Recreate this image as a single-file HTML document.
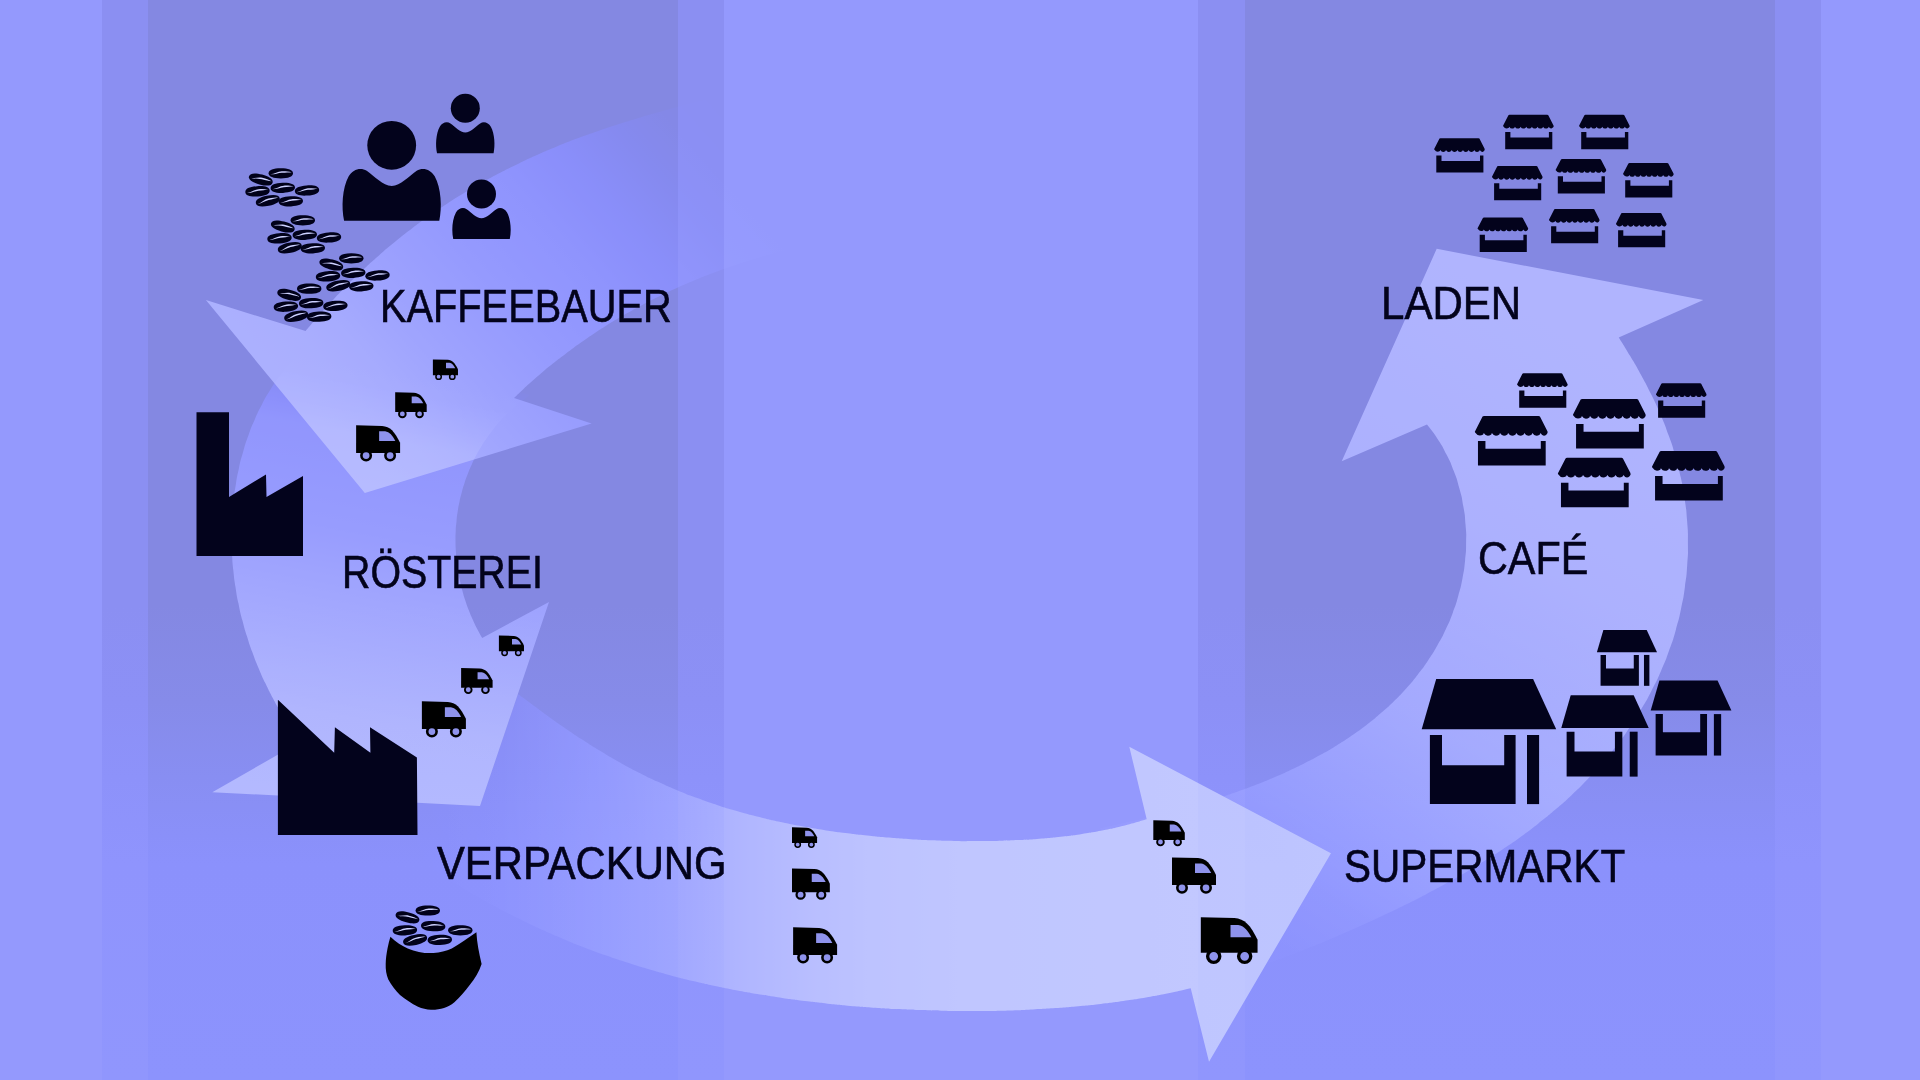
<!DOCTYPE html>
<html lang="de">
<head>
<meta charset="utf-8">
<title>Kaffee Lieferkette</title>
<style>
html,body{margin:0;padding:0;width:1920px;height:1080px;overflow:hidden;background:#9499fd;}
#stage{position:relative;width:1920px;height:1080px;overflow:hidden;background:#9499fd;font-family:"Liberation Sans",sans-serif;}
svg{position:absolute;left:0;top:0;}
.lbl{position:absolute;margin:0;color:#03031c;font-size:45.6px;line-height:1;white-space:nowrap;transform-origin:0 0;font-weight:400;-webkit-text-stroke:0.6px #03031c;}
.ar{mix-blend-mode:screen;}
@supports not (mix-blend-mode:screen){.ar{mix-blend-mode:normal;}.a1{fill:url(#g1n);}.a2{fill:url(#g2n);}.a3{fill:url(#g3n);}.a4{fill:url(#g4n);}}
</style>
</head>
<body>
<div id="stage">

<svg width="1920" height="1080" viewBox="0 0 1920 1080">
<defs>
<linearGradient id="bd" gradientUnits="userSpaceOnUse" x1="0" y1="0" x2="0" y2="1080">
<stop offset="0" stop-color="#8488e2"/><stop offset="0.56" stop-color="#8488e2"/><stop offset="0.65" stop-color="#868be9"/><stop offset="0.72" stop-color="#888ef2"/><stop offset="0.80" stop-color="#8b91fc"/><stop offset="1" stop-color="#8c93fd"/>
</linearGradient>
<linearGradient id="bm" gradientUnits="userSpaceOnUse" x1="0" y1="0" x2="0" y2="1080">
<stop offset="0" stop-color="#8b8ff2"/><stop offset="0.56" stop-color="#8b8ff2"/><stop offset="0.65" stop-color="#8c90f6"/><stop offset="0.72" stop-color="#8d92fa"/><stop offset="0.80" stop-color="#8f94fd"/><stop offset="1" stop-color="#9096fd"/>
</linearGradient>
<linearGradient id="g1" gradientUnits="userSpaceOnUse" x1="720" y1="100" x2="340" y2="440">
<stop offset="0.000" stop-color="#000000"/>
<stop offset="0.100" stop-color="#01012d"/>
<stop offset="0.185" stop-color="#030473"/>
<stop offset="0.300" stop-color="#0c0dd4"/>
<stop offset="0.410" stop-color="#1619f1"/>
<stop offset="0.580" stop-color="#2427f5"/>
<stop offset="0.726" stop-color="#3438f6"/>
<stop offset="0.850" stop-color="#464af7"/>
<stop offset="0.920" stop-color="#4d51f7"/>
<stop offset="1.000" stop-color="#5155f7"/>
</linearGradient>
<linearGradient id="g1n" gradientUnits="userSpaceOnUse" x1="720" y1="100" x2="340" y2="440">
<stop offset="0.000" stop-color="#8a8fff" stop-opacity="0.000"/>
<stop offset="0.100" stop-color="#8b90ff" stop-opacity="0.176"/>
<stop offset="0.185" stop-color="#8b91ff" stop-opacity="0.451"/>
<stop offset="0.300" stop-color="#8f94ff" stop-opacity="0.831"/>
<stop offset="0.410" stop-color="#9399ff" stop-opacity="0.945"/>
<stop offset="0.580" stop-color="#999fff" stop-opacity="0.961"/>
<stop offset="0.726" stop-color="#a1a7ff" stop-opacity="0.965"/>
<stop offset="0.850" stop-color="#aaafff" stop-opacity="0.969"/>
<stop offset="0.920" stop-color="#adb2ff" stop-opacity="0.969"/>
<stop offset="1.000" stop-color="#afb4ff" stop-opacity="0.969"/>
</linearGradient>
<linearGradient id="g2" gradientUnits="userSpaceOnUse" x1="420" y1="370" x2="340" y2="800">
<stop offset="0.000" stop-color="#000000"/>
<stop offset="0.060" stop-color="#030378"/>
<stop offset="0.120" stop-color="#0f10dc"/>
<stop offset="0.170" stop-color="#1b1df0"/>
<stop offset="0.390" stop-color="#282bf5"/>
<stop offset="0.530" stop-color="#3b3ff6"/>
<stop offset="0.700" stop-color="#4d51f7"/>
<stop offset="0.810" stop-color="#585cf7"/>
<stop offset="1.000" stop-color="#5c60f7"/>
</linearGradient>
<linearGradient id="g2n" gradientUnits="userSpaceOnUse" x1="420" y1="370" x2="340" y2="800">
<stop offset="0.000" stop-color="#8a8fff" stop-opacity="0.000"/>
<stop offset="0.060" stop-color="#8b90ff" stop-opacity="0.471"/>
<stop offset="0.120" stop-color="#9095ff" stop-opacity="0.863"/>
<stop offset="0.170" stop-color="#959bff" stop-opacity="0.941"/>
<stop offset="0.390" stop-color="#9ba1ff" stop-opacity="0.961"/>
<stop offset="0.530" stop-color="#a5aaff" stop-opacity="0.965"/>
<stop offset="0.700" stop-color="#adb2ff" stop-opacity="0.969"/>
<stop offset="0.810" stop-color="#b2b7ff" stop-opacity="0.969"/>
<stop offset="1.000" stop-color="#b4b9ff" stop-opacity="0.969"/>
</linearGradient>
<linearGradient id="g3" gradientUnits="userSpaceOnUse" x1="400" y1="0" x2="1330" y2="0">
<stop offset="0.000" stop-color="#000000"/>
<stop offset="0.050" stop-color="#01013c"/>
<stop offset="0.107" stop-color="#04048c"/>
<stop offset="0.215" stop-color="#171aec"/>
<stop offset="0.300" stop-color="#2a2ef5"/>
<stop offset="0.366" stop-color="#4247f6"/>
<stop offset="0.440" stop-color="#565cf7"/>
<stop offset="0.502" stop-color="#6168f7"/>
<stop offset="0.600" stop-color="#6870f8"/>
<stop offset="0.753" stop-color="#6b73f8"/>
<stop offset="0.914" stop-color="#6e76f8"/>
<stop offset="1.000" stop-color="#7078f8"/>
</linearGradient>
<linearGradient id="g3n" gradientUnits="userSpaceOnUse" x1="400" y1="0" x2="1330" y2="0">
<stop offset="0.000" stop-color="#8a8fff" stop-opacity="0.000"/>
<stop offset="0.050" stop-color="#8a8fff" stop-opacity="0.235"/>
<stop offset="0.107" stop-color="#8b90ff" stop-opacity="0.549"/>
<stop offset="0.215" stop-color="#949aff" stop-opacity="0.925"/>
<stop offset="0.300" stop-color="#9ca2ff" stop-opacity="0.961"/>
<stop offset="0.366" stop-color="#a8aeff" stop-opacity="0.965"/>
<stop offset="0.440" stop-color="#b1b7ff" stop-opacity="0.969"/>
<stop offset="0.502" stop-color="#b7bdff" stop-opacity="0.969"/>
<stop offset="0.600" stop-color="#bac0ff" stop-opacity="0.973"/>
<stop offset="0.753" stop-color="#bbc2ff" stop-opacity="0.973"/>
<stop offset="0.914" stop-color="#bdc3ff" stop-opacity="0.973"/>
<stop offset="1.000" stop-color="#bec4ff" stop-opacity="0.973"/>
</linearGradient>
<linearGradient id="g4" gradientUnits="userSpaceOnUse" x1="1180" y1="950" x2="1560" y2="330">
<stop offset="0.000" stop-color="#000000"/>
<stop offset="0.080" stop-color="#03036e"/>
<stop offset="0.160" stop-color="#0c0dcd"/>
<stop offset="0.240" stop-color="#1a1df0"/>
<stop offset="0.450" stop-color="#3f43f6"/>
<stop offset="0.710" stop-color="#5357f7"/>
<stop offset="0.910" stop-color="#595df7"/>
<stop offset="1.000" stop-color="#5b5ff7"/>
</linearGradient>
<linearGradient id="g4n" gradientUnits="userSpaceOnUse" x1="1180" y1="950" x2="1560" y2="330">
<stop offset="0.000" stop-color="#8a8fff" stop-opacity="0.000"/>
<stop offset="0.080" stop-color="#8b90ff" stop-opacity="0.431"/>
<stop offset="0.160" stop-color="#8f94ff" stop-opacity="0.804"/>
<stop offset="0.240" stop-color="#959bff" stop-opacity="0.941"/>
<stop offset="0.450" stop-color="#a6acff" stop-opacity="0.965"/>
<stop offset="0.710" stop-color="#b0b5ff" stop-opacity="0.969"/>
<stop offset="0.910" stop-color="#b3b8ff" stop-opacity="0.969"/>
<stop offset="1.000" stop-color="#b4b9ff" stop-opacity="0.969"/>
</linearGradient>

<clipPath id="c3"><path clip-rule="evenodd" d="M0,0 H1920 V1080 H0 Z M330.0,330.0 C325.2,333.2 324.8,332.7 315.8,339.5 C306.7,346.3 311.0,342.7 302.7,350.3 C294.4,357.9 298.4,354.0 290.9,362.3 C283.4,370.6 287.0,366.3 280.2,375.3 C273.5,384.3 276.7,379.7 270.7,389.2 C264.7,398.7 267.5,393.9 262.2,403.9 C257.0,413.8 259.4,408.8 254.9,419.2 C250.3,429.6 252.4,424.3 248.6,435.0 C244.7,445.7 246.5,440.3 243.3,451.3 C240.1,462.3 241.5,456.7 239.0,467.9 C236.5,479.1 237.6,473.5 235.8,484.8 C233.9,496.1 234.7,490.4 233.4,501.8 C232.2,513.2 232.7,507.5 232.1,518.9 C231.4,530.3 231.6,524.6 231.6,536.0 C231.6,547.4 231.4,541.7 232.0,553.1 C232.6,564.4 232.2,558.8 233.3,570.1 C234.5,581.3 233.8,575.7 235.5,586.9 C237.2,598.0 236.2,592.5 238.5,603.5 C240.7,614.6 239.5,609.1 242.3,620.0 C245.1,630.8 243.6,625.4 246.9,636.1 C250.2,646.8 248.4,641.5 252.3,652.1 C256.1,662.6 254.1,657.4 258.4,667.7 C262.8,678.1 260.5,672.9 265.3,683.1 C270.2,693.3 267.6,688.2 272.9,698.2 C278.3,708.2 275.5,703.2 281.3,713.0 C287.1,722.8 284.0,718.0 290.3,727.6 C296.5,737.3 296.8,737.2 300.0,742.0 L212.3,792.2 L480.0,806.0 L549.0,602.0 L482.2,638.0 C480.5,635.0 480.4,635.0 477.2,628.9 C474.0,622.8 475.5,625.8 472.7,619.6 C469.9,613.3 471.2,616.5 468.7,610.1 C466.3,603.8 467.4,607.0 465.3,600.5 C463.2,594.1 464.1,597.3 462.4,590.8 C460.6,584.3 461.4,587.5 460.0,581.0 C458.5,574.4 459.2,577.7 458.1,571.1 C457.0,564.5 457.4,567.8 456.7,561.1 C456.0,554.5 456.2,557.8 455.9,551.2 C455.5,544.5 455.6,547.8 455.5,541.2 C455.5,534.6 455.4,537.9 455.7,531.3 C456.0,524.7 455.8,528.0 456.5,521.4 C457.1,514.8 456.7,518.1 457.7,511.6 C458.7,505.1 458.1,508.3 459.5,501.8 C460.8,495.4 460.1,498.6 461.8,492.2 C463.5,485.9 462.5,489.0 464.6,482.8 C466.6,476.5 465.5,479.6 467.9,473.5 C470.3,467.4 469.0,470.4 471.8,464.4 C474.5,458.4 473.0,461.3 476.1,455.5 C479.2,449.7 477.6,452.5 481.0,446.9 C484.5,441.2 482.7,444.0 486.5,438.5 C490.3,433.0 488.3,435.7 492.4,430.4 C496.6,425.1 494.4,427.7 498.9,422.6 C503.4,417.5 501.0,420.0 505.9,415.1 C510.7,410.3 508.2,412.6 513.4,408.0 C518.6,403.4 515.9,405.7 521.5,401.3 C527.0,397.0 527.2,397.1 530.0,395.0 Z"/></clipPath>
<clipPath id="c4"><path clip-rule="evenodd" d="M0,0 H1920 V1080 H0 Z M440.0,640.0 C446.1,643.8 446.3,643.5 458.4,651.3 C470.5,659.1 464.5,655.2 476.4,663.4 C488.2,671.7 482.3,667.6 494.0,676.1 C505.7,684.7 499.8,680.4 511.4,689.1 C523.1,697.8 517.2,693.5 528.9,702.1 C540.5,710.7 534.7,706.5 546.4,715.0 C558.2,723.5 552.2,719.3 564.1,727.5 C576.0,735.7 570.0,731.7 582.1,739.6 C594.2,747.5 588.1,743.7 600.4,751.1 C612.7,758.6 606.5,755.0 619.0,762.0 C631.5,769.0 625.2,765.7 638.0,772.2 C650.8,778.7 644.3,775.6 657.4,781.6 C670.4,787.6 663.8,784.7 677.1,790.2 C690.4,795.7 683.7,793.1 697.2,798.1 C710.7,803.1 703.9,800.7 717.6,805.2 C731.4,809.7 724.5,807.5 738.4,811.5 C752.3,815.5 745.3,813.6 759.4,817.1 C773.5,820.6 766.4,819.0 780.6,822.0 C794.9,825.1 787.7,823.7 802.1,826.3 C816.4,828.9 809.2,827.7 823.7,829.9 C838.1,832.2 830.9,831.1 845.3,833.0 C859.8,834.9 852.6,834.0 867.1,835.5 C881.6,837.1 874.3,836.4 888.8,837.6 C903.3,838.8 896.1,838.3 910.6,839.2 C925.1,840.0 917.8,839.7 932.3,840.3 C946.7,840.9 939.5,840.6 953.9,840.9 C968.3,841.2 961.1,841.2 975.4,841.1 C989.7,841.1 982.6,841.2 996.8,840.9 C1011.1,840.5 1004.0,840.8 1018.2,840.1 C1032.4,839.4 1025.3,839.9 1039.5,838.7 C1053.6,837.6 1046.5,838.3 1060.7,836.7 C1074.9,835.1 1067.8,836.1 1082.0,833.9 C1096.2,831.7 1089.0,833.0 1103.3,830.2 C1117.6,827.3 1110.4,829.0 1124.9,825.4 C1139.3,821.8 1139.4,821.3 1146.7,819.3 L1129.3,746.7 L1331.0,853.3 L1209.0,1061.7 L1190.7,988.3 C1183.2,990.0 1183.3,990.2 1168.3,993.3 C1153.4,996.3 1160.8,994.9 1145.9,997.5 C1130.9,1000.0 1138.4,998.8 1123.3,1001.0 C1108.3,1003.1 1115.8,1002.1 1100.8,1003.9 C1085.7,1005.6 1093.2,1004.8 1078.1,1006.2 C1063.0,1007.6 1070.6,1007.0 1055.5,1008.1 C1040.3,1009.1 1047.9,1008.7 1032.7,1009.4 C1017.6,1010.2 1025.2,1009.9 1010.0,1010.4 C994.8,1010.8 1002.4,1010.7 987.2,1010.9 C972.0,1011.1 979.6,1011.1 964.4,1011.0 C949.2,1011.0 956.8,1011.0 941.6,1010.7 C926.4,1010.4 934.0,1010.7 918.8,1010.1 C903.6,1009.6 911.2,1009.9 896.0,1009.1 C880.8,1008.3 888.4,1008.8 873.2,1007.7 C858.0,1006.6 865.6,1007.2 850.4,1005.9 C835.2,1004.6 842.8,1005.3 827.7,1003.7 C812.5,1002.1 820.1,1003.0 805.0,1001.1 C789.9,999.2 797.4,1000.2 782.4,998.0 C767.4,995.8 774.9,997.0 759.9,994.5 C744.9,992.0 752.4,993.3 737.4,990.5 C722.5,987.7 730.0,989.2 715.1,986.0 C700.3,982.8 707.7,984.5 692.9,981.0 C678.2,977.5 685.5,979.3 670.9,975.4 C656.2,971.5 663.5,973.6 648.9,969.3 C634.4,965.0 641.6,967.3 627.2,962.6 C612.8,957.9 619.9,960.4 605.6,955.3 C591.3,950.2 598.5,952.9 584.3,947.4 C570.1,941.9 577.2,944.8 563.2,938.9 C549.1,933.0 556.1,936.1 542.2,929.8 C528.4,923.5 535.3,926.7 521.6,920.0 C507.9,913.3 514.7,916.8 501.2,909.7 C487.7,902.6 494.4,906.2 481.1,898.7 C467.8,891.2 474.4,895.1 461.3,887.2 C448.2,879.3 454.7,883.3 441.9,875.1 C429.0,866.9 435.4,871.1 422.7,862.5 C410.1,854.0 416.4,858.3 404.0,849.5 C391.6,840.6 397.7,845.1 385.6,836.0 C373.5,826.9 379.4,831.5 367.6,822.1 C355.7,812.8 355.9,812.7 350.0,808.0 Z"/></clipPath>

<g id="truck">
<path fill="#000" d="M0,0 L26,0.6 C34,1.2 38.5,6 44,17.5 L44,27.6 L0,27.6 Z"/>
<path fill="#8f93ec" d="M23,6 L29,6 C33.5,6.6 36.5,10.5 39.2,15.6 L23,15.6 Z"/>
<circle cx="10" cy="30.3" r="4.7" fill="#8f93ec" stroke="#000" stroke-width="2.6"/>
<circle cx="34" cy="30.3" r="4.7" fill="#8f93ec" stroke="#000" stroke-width="2.6"/>
</g>

<g id="shop" fill="#03031c">
<path d="M5.4,0.4 Q5.8,0 6.4,0 L44.3,0 Q44.9,0 45.3,0.4 L50.5,10.6 Q51,11.8 49.9,12.8 Q47.60,15.00 45.67,11.90 L45.27,12.90 Q41.97,15.00 40.03,11.90 L39.63,12.90 Q36.34,15.00 34.40,11.90 L34.00,12.90 Q30.70,15.00 28.77,11.90 L28.37,12.90 Q25.07,15.00 23.13,11.90 L22.73,12.90 Q19.44,15.00 17.50,11.90 L17.10,12.90 Q13.80,15.00 11.87,11.90 L11.47,12.90 Q8.17,15.00 6.23,11.90 L5.83,12.90 Q2.53,14.80 0.40,11.60 Q-0.2,11.0 0.2,10.6 Z"/>
<path d="M2.2,17.3 L7.4,17.3 L7.4,22.8 L45.9,22.8 L45.9,17.3 L49.3,17.3 L49.3,34.4 L2.2,34.4 Z"/>
</g>

<g id="market" fill="#03031c">
<path d="M14.5,0 L111.4,0 L134.5,50.2 L0,50.2 Z"/>
<path d="M8.2,56 L20.3,56 L20.3,86.3 L82.5,86.3 L82.5,56 L93.9,56 L93.9,125.1 L8.2,125.1 Z"/>
<rect x="105.3" y="56" width="12.1" height="69.1"/>
</g>

<g id="bean">
<path d="M-12.2,0 C-12.2,-3.5 -7.4,-5.1 0,-5.1 C7.4,-5.1 12.2,-3.5 12.2,0 C12.2,3.5 7.4,5.1 0,5.1 C-7.4,5.1 -12.2,3.5 -12.2,0 Z" fill="#01011a"/>
<path d="M-10.6,1.0 C-6,0.5 -3.2,-1.9 1,-2.1 C5,-2.2 8,-1.7 10.9,-1.1 C8,-0.8 5,-0.7 1,-0.6 C-3,-0.3 -6,1.2 -10.6,1.0 Z" fill="#ccd0ff"/>
</g>

<g id="person" fill="#03031c">
<circle cx="0" cy="0" r="24.4"/>
<path d="M-47.6,75.5 C-50.5,62 -49.5,43 -43,31 C-39,24 -31,21.5 -25,25.5 C-17,31 -9,40.5 0,40.8 C9,40.5 17,31 25,25.5 C31,21.5 39,24 43,31 C49.5,43 50.5,62 47.6,75.5 Z"/>
</g>
</defs>

<rect x="0" y="0" width="1920" height="1080" fill="#9499fd"/>
<rect x="102" y="0" width="46" height="1080" fill="url(#bm)"/>
<rect x="148" y="0" width="530" height="1080" fill="url(#bd)"/>
<rect x="678" y="0" width="46" height="1080" fill="url(#bm)"/>
<rect x="1198" y="0" width="47" height="1080" fill="url(#bm)"/>
<rect x="1245" y="0" width="530" height="1080" fill="url(#bd)"/>
<rect x="1775" y="0" width="46" height="1080" fill="url(#bm)"/>
<g>
<path class="ar a2" d="M330.0,330.0 C325.2,333.2 324.8,332.7 315.8,339.5 C306.7,346.3 311.0,342.7 302.7,350.3 C294.4,357.9 298.4,354.0 290.9,362.3 C283.4,370.6 287.0,366.3 280.2,375.3 C273.5,384.3 276.7,379.7 270.7,389.2 C264.7,398.7 267.5,393.9 262.2,403.9 C257.0,413.8 259.4,408.8 254.9,419.2 C250.3,429.6 252.4,424.3 248.6,435.0 C244.7,445.7 246.5,440.3 243.3,451.3 C240.1,462.3 241.5,456.7 239.0,467.9 C236.5,479.1 237.6,473.5 235.8,484.8 C233.9,496.1 234.7,490.4 233.4,501.8 C232.2,513.2 232.7,507.5 232.1,518.9 C231.4,530.3 231.6,524.6 231.6,536.0 C231.6,547.4 231.4,541.7 232.0,553.1 C232.6,564.4 232.2,558.8 233.3,570.1 C234.5,581.3 233.8,575.7 235.5,586.9 C237.2,598.0 236.2,592.5 238.5,603.5 C240.7,614.6 239.5,609.1 242.3,620.0 C245.1,630.8 243.6,625.4 246.9,636.1 C250.2,646.8 248.4,641.5 252.3,652.1 C256.1,662.6 254.1,657.4 258.4,667.7 C262.8,678.1 260.5,672.9 265.3,683.1 C270.2,693.3 267.6,688.2 272.9,698.2 C278.3,708.2 275.5,703.2 281.3,713.0 C287.1,722.8 284.0,718.0 290.3,727.6 C296.5,737.3 296.8,737.2 300.0,742.0 L212.3,792.2 L480.0,806.0 L549.0,602.0 L482.2,638.0 C480.5,635.0 480.4,635.0 477.2,628.9 C474.0,622.8 475.5,625.8 472.7,619.6 C469.9,613.3 471.2,616.5 468.7,610.1 C466.3,603.8 467.4,607.0 465.3,600.5 C463.2,594.1 464.1,597.3 462.4,590.8 C460.6,584.3 461.4,587.5 460.0,581.0 C458.5,574.4 459.2,577.7 458.1,571.1 C457.0,564.5 457.4,567.8 456.7,561.1 C456.0,554.5 456.2,557.8 455.9,551.2 C455.5,544.5 455.6,547.8 455.5,541.2 C455.5,534.6 455.4,537.9 455.7,531.3 C456.0,524.7 455.8,528.0 456.5,521.4 C457.1,514.8 456.7,518.1 457.7,511.6 C458.7,505.1 458.1,508.3 459.5,501.8 C460.8,495.4 460.1,498.6 461.8,492.2 C463.5,485.9 462.5,489.0 464.6,482.8 C466.6,476.5 465.5,479.6 467.9,473.5 C470.3,467.4 469.0,470.4 471.8,464.4 C474.5,458.4 473.0,461.3 476.1,455.5 C479.2,449.7 477.6,452.5 481.0,446.9 C484.5,441.2 482.7,444.0 486.5,438.5 C490.3,433.0 488.3,435.7 492.4,430.4 C496.6,425.1 494.4,427.7 498.9,422.6 C503.4,417.5 501.0,420.0 505.9,415.1 C510.7,410.3 508.2,412.6 513.4,408.0 C518.6,403.4 515.9,405.7 521.5,401.3 C527.0,397.0 527.2,397.1 530.0,395.0 Z" fill="url(#g2)"/>
<path class="ar a1" d="M800.0,76.0 C793.3,77.7 793.3,77.8 779.8,81.2 C766.3,84.6 773.0,82.9 759.4,86.3 C745.8,89.6 752.6,87.9 739.0,91.3 C725.4,94.6 732.2,92.9 718.5,96.3 C704.9,99.8 711.7,98.0 698.1,101.5 C684.4,105.0 691.2,103.2 677.6,106.9 C664.0,110.5 670.8,108.6 657.2,112.5 C643.7,116.3 650.4,114.4 637.0,118.4 C623.5,122.5 630.2,120.4 616.8,124.7 C603.4,129.1 610.1,126.8 596.8,131.5 C583.5,136.1 590.1,133.7 577.0,138.6 C563.9,143.6 570.4,141.0 557.4,146.3 C544.4,151.6 550.9,148.9 538.1,154.6 C525.3,160.2 531.6,157.3 519.0,163.4 C506.4,169.4 512.6,166.3 500.2,172.7 C487.8,179.2 494.0,175.9 481.8,182.7 C469.6,189.6 475.6,186.0 463.7,193.3 C451.7,200.6 457.6,196.8 445.9,204.5 C434.2,212.2 440.0,208.2 428.6,216.3 C417.1,224.4 422.8,220.3 411.6,228.8 C400.5,237.2 406.0,232.9 395.1,241.8 C384.2,250.7 389.6,246.1 379.0,255.4 C368.4,264.6 373.6,259.9 363.4,269.6 C353.1,279.2 358.1,274.3 348.2,284.2 C338.2,294.2 343.1,289.2 333.5,299.4 C323.9,309.7 328.6,304.5 319.3,315.1 C310.0,325.6 310.2,325.8 305.6,331.1 L205.9,300.0 L364.8,493.0 L591.6,423.5 L514.0,398.0 C517.2,395.0 517.1,394.9 523.5,389.0 C529.8,383.1 526.6,386.0 533.1,380.3 C539.6,374.6 536.3,377.4 542.9,371.8 C549.5,366.3 546.2,369.0 552.9,363.6 C559.6,358.2 556.2,360.9 563.1,355.7 C569.9,350.4 566.5,353.0 573.4,347.9 C580.3,342.9 576.8,345.4 583.9,340.5 C590.9,335.6 587.4,338.0 594.5,333.3 C601.6,328.5 598.0,330.8 605.3,326.3 C612.5,321.7 608.9,324.0 616.2,319.6 C623.5,315.2 619.8,317.3 627.3,313.1 C634.7,308.9 630.9,310.9 638.5,306.9 C646.0,302.8 642.2,304.8 649.8,300.9 C657.4,297.0 653.6,298.9 661.3,295.2 C668.9,291.4 665.1,293.2 672.8,289.7 C680.6,286.1 676.7,287.8 684.5,284.4 C692.4,281.0 688.5,282.7 696.4,279.4 C704.3,276.2 700.3,277.8 708.3,274.7 C716.3,271.6 712.3,273.1 720.3,270.2 C728.4,267.3 724.4,268.7 732.5,266.0 C740.6,263.2 736.5,264.5 744.7,261.9 C752.9,259.4 748.8,260.6 757.1,258.2 C765.3,255.8 761.2,256.9 769.5,254.7 C777.8,252.4 773.6,253.5 782.0,251.4 C790.4,249.3 786.2,250.3 794.6,248.4 C803.0,246.4 798.8,247.3 807.3,245.6 C815.7,243.8 815.8,243.9 820.0,243.0 Z" fill="url(#g1)"/>
<path class="ar a4" d="M1180.0,985.0 C1187.3,983.9 1187.4,984.3 1201.9,981.6 C1216.4,978.9 1209.2,980.4 1223.5,976.8 C1237.7,973.2 1230.6,975.1 1244.6,970.9 C1258.7,966.7 1251.7,968.9 1265.6,964.2 C1279.4,959.4 1272.5,961.9 1286.2,956.8 C1300.0,951.6 1293.1,954.3 1306.7,948.8 C1320.3,943.4 1313.6,946.2 1327.1,940.5 C1340.6,934.8 1333.8,937.7 1347.2,931.8 C1360.7,925.9 1354.0,928.9 1367.3,922.8 C1380.6,916.7 1374.0,919.8 1387.2,913.5 C1400.4,907.2 1393.9,910.4 1407.0,903.9 C1420.1,897.4 1413.6,900.7 1426.6,893.9 C1439.5,887.1 1433.1,890.6 1445.9,883.5 C1458.8,876.5 1452.4,880.1 1465.1,872.7 C1477.7,865.3 1471.5,869.1 1483.9,861.3 C1496.4,853.6 1490.2,857.6 1502.4,849.4 C1514.6,841.3 1508.6,845.5 1520.5,836.9 C1532.4,828.3 1526.5,832.8 1538.1,823.7 C1549.6,814.7 1543.9,819.3 1555.1,809.8 C1566.2,800.3 1560.8,805.2 1571.5,795.2 C1582.1,785.1 1576.9,790.3 1587.1,779.7 C1597.3,769.2 1592.4,774.6 1602.0,763.5 C1611.5,752.5 1606.9,758.1 1615.9,746.6 C1624.8,735.0 1620.6,740.9 1628.8,728.8 C1637.1,716.7 1633.2,722.9 1640.7,710.3 C1648.2,697.7 1644.7,704.1 1651.4,691.1 C1658.1,678.1 1655.0,684.7 1660.9,671.3 C1666.7,657.8 1664.1,664.6 1669.0,650.8 C1674.0,637.1 1671.8,644.0 1675.8,629.9 C1679.8,615.8 1678.1,622.9 1681.1,608.6 C1684.1,594.2 1682.9,601.4 1684.9,586.9 C1686.9,572.4 1686.2,579.7 1687.2,565.1 C1688.2,550.4 1688.0,557.7 1687.9,543.1 C1687.9,528.4 1688.2,535.7 1687.1,521.1 C1686.0,506.5 1686.8,513.7 1684.7,499.2 C1682.6,484.7 1683.9,491.9 1680.8,477.6 C1677.7,463.3 1679.5,470.3 1675.4,456.2 C1671.4,442.1 1673.6,449.1 1668.6,435.3 C1663.7,421.5 1666.3,428.3 1660.6,414.8 C1654.8,401.2 1657.8,407.9 1651.4,394.7 C1644.9,381.5 1648.2,388.1 1641.2,375.2 C1634.2,362.3 1637.7,368.7 1630.2,356.1 C1622.8,343.6 1622.6,343.7 1618.7,337.5 L1703.3,300.0 L1436.7,248.8 L1341.7,461.2 L1427.0,424.6 C1430.5,429.4 1431.1,428.9 1437.6,438.9 C1444.1,448.9 1441.1,443.8 1446.5,454.5 C1451.9,465.2 1449.5,459.8 1453.8,471.1 C1458.1,482.4 1456.2,476.7 1459.4,488.4 C1462.6,500.1 1461.3,494.2 1463.3,506.2 C1465.4,518.1 1464.6,512.1 1465.5,524.2 C1466.5,536.3 1466.3,530.3 1466.1,542.4 C1466.0,554.4 1466.3,548.5 1465.1,560.4 C1463.8,572.4 1464.7,566.5 1462.5,578.3 C1460.2,590.1 1461.6,584.3 1458.3,595.8 C1455.1,607.3 1456.9,601.6 1452.8,612.8 C1448.6,624.0 1450.9,618.5 1445.8,629.3 C1440.8,640.1 1443.5,634.8 1437.6,645.1 C1431.7,655.5 1434.9,650.4 1428.2,660.3 C1421.6,670.2 1425.0,665.4 1417.7,674.7 C1410.3,684.1 1414.2,679.6 1406.2,688.4 C1398.2,697.3 1402.3,693.0 1393.7,701.4 C1385.1,709.7 1389.5,705.7 1380.4,713.5 C1371.4,721.4 1376.0,717.6 1366.5,724.9 C1356.9,732.2 1361.8,728.7 1351.8,735.5 C1341.9,742.4 1346.9,739.0 1336.7,745.4 C1326.4,751.8 1331.6,748.7 1321.0,754.6 C1310.5,760.5 1315.8,757.6 1305.0,763.1 C1294.3,768.6 1299.7,765.9 1288.7,771.0 C1277.8,776.0 1283.3,773.6 1272.2,778.2 C1261.1,782.9 1266.7,780.7 1255.5,785.0 C1244.3,789.3 1249.9,787.2 1238.6,791.2 C1227.3,795.2 1233.0,793.3 1221.7,797.0 C1210.3,800.7 1216.0,798.9 1204.6,802.3 C1193.2,805.8 1198.9,804.1 1187.5,807.3 C1176.1,810.6 1181.8,809.0 1170.3,812.0 C1158.8,815.0 1164.6,813.6 1153.0,816.4 C1141.4,819.2 1147.3,817.8 1135.6,820.5 C1123.9,823.1 1129.8,821.9 1117.9,824.4 C1106.1,826.9 1106.0,826.8 1100.0,828.0 Z" fill="url(#g4)" clip-path="url(#c4)"/>
<path class="ar a3" d="M440.0,640.0 C446.1,643.8 446.3,643.5 458.4,651.3 C470.5,659.1 464.5,655.2 476.4,663.4 C488.2,671.7 482.3,667.6 494.0,676.1 C505.7,684.7 499.8,680.4 511.4,689.1 C523.1,697.8 517.2,693.5 528.9,702.1 C540.5,710.7 534.7,706.5 546.4,715.0 C558.2,723.5 552.2,719.3 564.1,727.5 C576.0,735.7 570.0,731.7 582.1,739.6 C594.2,747.5 588.1,743.7 600.4,751.1 C612.7,758.6 606.5,755.0 619.0,762.0 C631.5,769.0 625.2,765.7 638.0,772.2 C650.8,778.7 644.3,775.6 657.4,781.6 C670.4,787.6 663.8,784.7 677.1,790.2 C690.4,795.7 683.7,793.1 697.2,798.1 C710.7,803.1 703.9,800.7 717.6,805.2 C731.4,809.7 724.5,807.5 738.4,811.5 C752.3,815.5 745.3,813.6 759.4,817.1 C773.5,820.6 766.4,819.0 780.6,822.0 C794.9,825.1 787.7,823.7 802.1,826.3 C816.4,828.9 809.2,827.7 823.7,829.9 C838.1,832.2 830.9,831.1 845.3,833.0 C859.8,834.9 852.6,834.0 867.1,835.5 C881.6,837.1 874.3,836.4 888.8,837.6 C903.3,838.8 896.1,838.3 910.6,839.2 C925.1,840.0 917.8,839.7 932.3,840.3 C946.7,840.9 939.5,840.6 953.9,840.9 C968.3,841.2 961.1,841.2 975.4,841.1 C989.7,841.1 982.6,841.2 996.8,840.9 C1011.1,840.5 1004.0,840.8 1018.2,840.1 C1032.4,839.4 1025.3,839.9 1039.5,838.7 C1053.6,837.6 1046.5,838.3 1060.7,836.7 C1074.9,835.1 1067.8,836.1 1082.0,833.9 C1096.2,831.7 1089.0,833.0 1103.3,830.2 C1117.6,827.3 1110.4,829.0 1124.9,825.4 C1139.3,821.8 1139.4,821.3 1146.7,819.3 L1129.3,746.7 L1331.0,853.3 L1209.0,1061.7 L1190.7,988.3 C1183.2,990.0 1183.3,990.2 1168.3,993.3 C1153.4,996.3 1160.8,994.9 1145.9,997.5 C1130.9,1000.0 1138.4,998.8 1123.3,1001.0 C1108.3,1003.1 1115.8,1002.1 1100.8,1003.9 C1085.7,1005.6 1093.2,1004.8 1078.1,1006.2 C1063.0,1007.6 1070.6,1007.0 1055.5,1008.1 C1040.3,1009.1 1047.9,1008.7 1032.7,1009.4 C1017.6,1010.2 1025.2,1009.9 1010.0,1010.4 C994.8,1010.8 1002.4,1010.7 987.2,1010.9 C972.0,1011.1 979.6,1011.1 964.4,1011.0 C949.2,1011.0 956.8,1011.0 941.6,1010.7 C926.4,1010.4 934.0,1010.7 918.8,1010.1 C903.6,1009.6 911.2,1009.9 896.0,1009.1 C880.8,1008.3 888.4,1008.8 873.2,1007.7 C858.0,1006.6 865.6,1007.2 850.4,1005.9 C835.2,1004.6 842.8,1005.3 827.7,1003.7 C812.5,1002.1 820.1,1003.0 805.0,1001.1 C789.9,999.2 797.4,1000.2 782.4,998.0 C767.4,995.8 774.9,997.0 759.9,994.5 C744.9,992.0 752.4,993.3 737.4,990.5 C722.5,987.7 730.0,989.2 715.1,986.0 C700.3,982.8 707.7,984.5 692.9,981.0 C678.2,977.5 685.5,979.3 670.9,975.4 C656.2,971.5 663.5,973.6 648.9,969.3 C634.4,965.0 641.6,967.3 627.2,962.6 C612.8,957.9 619.9,960.4 605.6,955.3 C591.3,950.2 598.5,952.9 584.3,947.4 C570.1,941.9 577.2,944.8 563.2,938.9 C549.1,933.0 556.1,936.1 542.2,929.8 C528.4,923.5 535.3,926.7 521.6,920.0 C507.9,913.3 514.7,916.8 501.2,909.7 C487.7,902.6 494.4,906.2 481.1,898.7 C467.8,891.2 474.4,895.1 461.3,887.2 C448.2,879.3 454.7,883.3 441.9,875.1 C429.0,866.9 435.4,871.1 422.7,862.5 C410.1,854.0 416.4,858.3 404.0,849.5 C391.6,840.6 397.7,845.1 385.6,836.0 C373.5,826.9 379.4,831.5 367.6,822.1 C355.7,812.8 355.9,812.7 350.0,808.0 Z" fill="url(#g3)" clip-path="url(#c3)"/>
</g>

<!-- factories -->
<path fill="#03031c" d="M196.5,412.3 L229,412.3 L229,497 L266,474.5 L266.5,497 L303,476 L303,556 L196.5,556 Z"/>
<path fill="#03031c" d="M277.9,699.7 L334.2,752.7 L334.9,727.2 L370.4,752.7 L370,727.2 L416.9,757.4 L417.5,835 L277.9,835 Z"/>

<!-- people -->
<use href="#person" transform="translate(391.7 145.3) scale(1.000)"/>
<use href="#person" transform="translate(465.3 108.3) scale(0.594)"/>
<use href="#person" transform="translate(481.5 194.1) scale(0.594)"/>

<!-- beans -->
<use href="#bean" transform="translate(280.8 173.3) rotate(0.0) scale(1.000)"/>
<use href="#bean" transform="translate(260.8 179.5) rotate(15.0) scale(1.000)"/>
<use href="#bean" transform="translate(282.8 187.8) rotate(-2.0) scale(1.000)"/>
<use href="#bean" transform="translate(257.5 191.3) rotate(-4.0) scale(1.000)"/>
<use href="#bean" transform="translate(307.0 190.5) rotate(-4.0) scale(1.000)"/>
<use href="#bean" transform="translate(267.8 200.8) rotate(-12.0) scale(1.000)"/>
<use href="#bean" transform="translate(290.8 201.3) rotate(-2.0) scale(1.000)"/>
<use href="#bean" transform="translate(302.8 220.3) rotate(0.0) scale(1.000)"/>
<use href="#bean" transform="translate(282.8 226.5) rotate(15.0) scale(1.000)"/>
<use href="#bean" transform="translate(304.8 234.8) rotate(-2.0) scale(1.000)"/>
<use href="#bean" transform="translate(279.5 238.3) rotate(-4.0) scale(1.000)"/>
<use href="#bean" transform="translate(329.0 237.5) rotate(-4.0) scale(1.000)"/>
<use href="#bean" transform="translate(289.8 247.8) rotate(-12.0) scale(1.000)"/>
<use href="#bean" transform="translate(312.8 248.3) rotate(-2.0) scale(1.000)"/>
<use href="#bean" transform="translate(351.3 258.3) rotate(0.0) scale(1.000)"/>
<use href="#bean" transform="translate(331.3 264.5) rotate(15.0) scale(1.000)"/>
<use href="#bean" transform="translate(353.3 272.8) rotate(-2.0) scale(1.000)"/>
<use href="#bean" transform="translate(328.0 276.3) rotate(-4.0) scale(1.000)"/>
<use href="#bean" transform="translate(377.5 275.5) rotate(-4.0) scale(1.000)"/>
<use href="#bean" transform="translate(338.3 285.8) rotate(-12.0) scale(1.000)"/>
<use href="#bean" transform="translate(361.3 286.3) rotate(-2.0) scale(1.000)"/>
<use href="#bean" transform="translate(309.2 288.7) rotate(0.0) scale(1.000)"/>
<use href="#bean" transform="translate(289.2 294.9) rotate(15.0) scale(1.000)"/>
<use href="#bean" transform="translate(311.2 303.2) rotate(-2.0) scale(1.000)"/>
<use href="#bean" transform="translate(285.9 306.7) rotate(-4.0) scale(1.000)"/>
<use href="#bean" transform="translate(335.4 305.9) rotate(-4.0) scale(1.000)"/>
<use href="#bean" transform="translate(296.2 316.2) rotate(-12.0) scale(1.000)"/>
<use href="#bean" transform="translate(319.2 316.7) rotate(-2.0) scale(1.000)"/>

<!-- bag -->
<path fill="#000" d="M390.4,936.7 C396,942 402,946 407.7,948.4 C416,952 425,953.5 433.6,953 C440,952.5 446,951 451.8,948.4 C460,944 468,938 476.4,932.3 C477,943 479,953 481.6,964 C479,972 475,978.5 469.9,984.7 C465,991 460,997 454.4,1002.3 C451,1005 447.5,1007 444,1008 C440,1009.3 435.5,1009.9 431,1009.8 C426.5,1009.5 422,1008.5 418,1006.7 C411.5,1003.5 405.5,999.5 400,995 C395.5,990.5 391.5,985.5 388.3,979.5 C386.3,974.5 385.5,969.5 385.7,964 C385.8,959 386.5,953.5 387.5,948.4 C388.3,944.5 389.3,940.5 390.4,936.7 Z"/>
<use href="#bean" transform="translate(427.8 910.5) rotate(0.0) scale(1.000)"/>
<use href="#bean" transform="translate(407.5 917.4) rotate(15.0) scale(1.000)"/>
<use href="#bean" transform="translate(433.2 926.1) rotate(3.0) scale(1.000)"/>
<use href="#bean" transform="translate(404.9 930.3) rotate(-2.0) scale(1.000)"/>
<use href="#bean" transform="translate(460.3 930.3) rotate(0.0) scale(1.000)"/>
<use href="#bean" transform="translate(415.1 939.9) rotate(-12.0) scale(1.000)"/>
<use href="#bean" transform="translate(439.8 939.9) rotate(-2.0) scale(1.000)"/>

<!-- trucks -->
<use href="#truck" transform="translate(356.1 425.3) scale(1.000)"/>
<use href="#truck" transform="translate(395.2 392.2) scale(0.716)"/>
<use href="#truck" transform="translate(432.9 359.4) scale(0.570)"/>
<use href="#truck" transform="translate(421.9 701.3) scale(1.000)"/>
<use href="#truck" transform="translate(461.1 668.0) scale(0.716)"/>
<use href="#truck" transform="translate(498.9 635.6) scale(0.570)"/>
<use href="#truck" transform="translate(792.0 827.3) scale(0.570)"/>
<use href="#truck" transform="translate(792.0 868.6) scale(0.860)"/>
<use href="#truck" transform="translate(793.1 927.3) scale(1.000)"/>
<use href="#truck" transform="translate(1153.3 820.3) scale(0.716)"/>
<use href="#truck" transform="translate(1172.0 857.5) scale(1.000)"/>
<use href="#truck" transform="translate(1200.8 917.2) scale(1.290)"/>

<!-- shops -->
<use href="#shop" transform="translate(1434.1 138.2) scale(1.000)"/>
<use href="#shop" transform="translate(1503.0 114.8) scale(1.000)"/>
<use href="#shop" transform="translate(1579.0 114.8) scale(1.000)"/>
<use href="#shop" transform="translate(1491.9 165.9) scale(1.000)"/>
<use href="#shop" transform="translate(1555.6 159.0) scale(1.000)"/>
<use href="#shop" transform="translate(1623.0 163.0) scale(1.000)"/>
<use href="#shop" transform="translate(1477.5 217.5) scale(1.000)"/>
<use href="#shop" transform="translate(1548.9 208.9) scale(1.000)"/>
<use href="#shop" transform="translate(1615.9 212.9) scale(1.000)"/>
<use href="#shop" transform="translate(1517.0 373.3) scale(1.000)"/>
<use href="#shop" transform="translate(1655.9 383.3) scale(1.000)"/>
<use href="#shop" transform="translate(1474.8 416.0) scale(1.438)"/>
<use href="#shop" transform="translate(1572.9 399.0) scale(1.438)"/>
<use href="#shop" transform="translate(1557.8 457.8) scale(1.438)"/>
<use href="#shop" transform="translate(1651.9 451.1) scale(1.438)"/>

<!-- markets -->
<use href="#market" transform="translate(1596.9 629.9) scale(0.447)"/>
<use href="#market" transform="translate(1421.7 679.0) scale(1.000)"/>
<use href="#market" transform="translate(1561.3 695.3) scale(0.650)"/>
<use href="#market" transform="translate(1650.7 680.5) scale(0.600)"/>
</svg>

<p class="lbl" id="t1" style="left:379.5px;top:283.8px;transform:scaleX(0.8721);">KAFFEEBAUER</p>
<p class="lbl" id="t2" style="left:342.2px;top:550.4px;transform:scaleX(0.8619);">RÖSTEREI</p>
<p class="lbl" id="t3" style="left:436.8px;top:840.8px;transform:scaleX(0.9166);">VERPACKUNG</p>
<p class="lbl" id="t4" style="left:1344.4px;top:843.7px;transform:scaleX(0.8879);">SUPERMARKT</p>
<p class="lbl" id="t5" style="left:1381.1px;top:280.8px;transform:scaleX(0.9219);">LADEN</p>
<p class="lbl" id="t6" style="left:1478.2px;top:536.1px;transform:scaleX(0.9068);">CAFÉ</p>
</div>
</body>
</html>
